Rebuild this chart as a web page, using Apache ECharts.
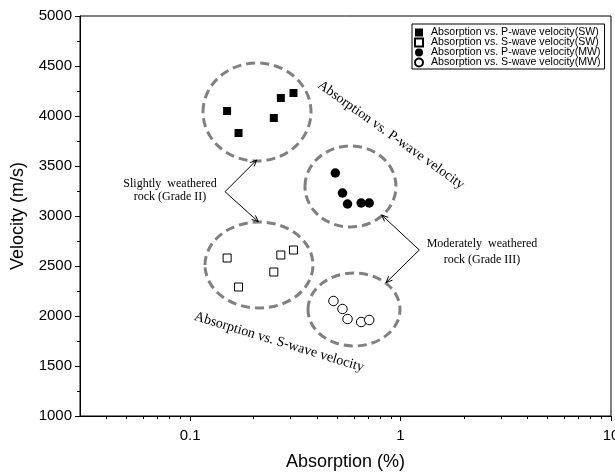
<!DOCTYPE html>
<html>
<head>
<meta charset="utf-8">
<script src="https://cdn.jsdelivr.net/npm/echarts@6/dist/echarts.min.js"></script>
<style>
  html, body { margin: 0; padding: 0; background: #fff; }
  #main { width: 615px; height: 475px; }
</style>
</head>
<body>
<div id="main"></div>
<script>
// values: absorption (%) vs velocity (m/s)
var swPAbsorption = [0.15, 0.17, 0.25, 0.27, 0.31];
var swPVelocity = [4050, 3830, 3980, 4180, 4230];
var swSAbsorption = [0.15, 0.17, 0.25, 0.27, 0.31];
var swSVelocity = [2580, 2290, 2440, 2610, 2660];
var mwPAbsorption = [0.49, 0.53, 0.56, 0.65, 0.71];
var mwPVelocity = [3430, 3230, 3120, 3130, 3130];
var mwSAbsorption = [0.48, 0.53, 0.56, 0.65, 0.71];
var mwSVelocity = [2150, 2070, 1970, 1940, 1960];

var seriesNames = [
    'Absorption vs. P-wave velocity(SW)',
    'Absorption vs. S-wave velocity(SW)',
    'Absorption vs. P-wave velocity(MW)',
    'Absorption vs. S-wave velocity(MW)'
];
var xMajorTicks = [0.1, 1, 10];
var xMinorTicks = [0.04, 0.05, 0.06, 0.07, 0.08, 0.09,
    0.2, 0.3, 0.4, 0.5, 0.6, 0.7, 0.8, 0.9,
    2, 3, 4, 5, 6, 7, 8, 9];

function pairs (xs, ys) {
    return xs.map(function (x, i) { return [x, ys[i]]; });
}

var sans = 'Liberation Sans, Arial, sans-serif';
var serif = 'Liberation Serif, Times New Roman, serif';
var dashed = { stroke: '#808080', fill: null, lineWidth: 3, lineDash: [9, 5] };
var thin = { stroke: '#000', fill: null, lineWidth: 1 };

function ellipse (cx, cy, rx, ry) {
    return { type: 'ellipse', shape: { cx: cx, cy: cy, rx: rx, ry: ry }, style: dashed, z: 1 };
}

// shaft from (x0,y0) to (x1,y1), open head at the far end
function arrow (x0, y0, x1, y1) {
    var a = Math.atan2(y1 - y0, x1 - x0);
    var len = 7, spread = 0.4;
    return [
        { type: 'polyline', shape: { points: [[x0, y0], [x1, y1]] }, style: thin, z: 5 },
        { type: 'polyline', shape: { points: [
            [x1 - len * Math.cos(a - spread), y1 - len * Math.sin(a - spread)],
            [x1, y1],
            [x1 - len * Math.cos(a + spread), y1 - len * Math.sin(a + spread)]
        ] }, style: thin, z: 5 }
    ];
}

function note (x, y, text, size, rot) {
    return {
        type: 'text', x: x, y: y, rotation: (rot || 0) * Math.PI / 180, z: 5,
        style: { text: text, fill: '#000', font: size + 'px ' + serif, align: 'center', verticalAlign: 'middle' }
    };
}

var graphics = [
    ellipse(257, 112, 54, 49),
    ellipse(350.5, 186.5, 45.5, 40.5),
    ellipse(259, 265, 54, 43),
    ellipse(354, 309.5, 46, 36.5),
    note(170, 183.5, 'Slightly  weathered', 12),
    note(170, 197, 'rock (Grade II)', 12),
    note(482, 243.5, 'Moderately  weathered', 12),
    note(482, 260, 'rock (Grade III)', 12),
    note(391, 135, 'Absorption vs. P-wave velocity', 14, -35.5),
    note(279, 342, 'Absorption vs. S-wave velocity', 14, -17)
].concat(
    arrow(225, 191.7, 256.7, 160),
    arrow(225, 191.7, 258.3, 221.7),
    arrow(419.3, 250, 381.7, 215),
    arrow(419.3, 250, 386, 282.7)
);

var open = { color: '#fff', borderColor: '#000', borderWidth: 1, opacity: 1 };
var solid = { color: '#000', opacity: 1 };

var option = {
    animation: false,
    backgroundColor: '#fff',
    textStyle: { fontFamily: sans },
    grid: {
        left: 80, right: 4, top: 16, bottom: 59,
        outerBoundsMode: 'none', containLabel: false,
        show: true, borderColor: '#000', borderWidth: 1, backgroundColor: 'transparent'
    },
    legend: {
        orient: 'vertical',
        left: 412, top: 24,
        padding: [3, 4, 1, 2],
        itemWidth: 8, itemHeight: 8, itemGap: -1,
        borderColor: '#000', borderWidth: 1,
        textStyle: { fontSize: 10.6, lineHeight: 10, color: '#000', fontFamily: sans, padding: [0, 0, 0, 3] },
        data: [
            { name: seriesNames[0], icon: 'rect' },
            { name: seriesNames[1], icon: 'rect' },
            { name: seriesNames[2], icon: 'circle' },
            { name: seriesNames[3], icon: 'circle' }
        ]
    },
    xAxis: [
        {
            type: 'log', logBase: 10, min: 0.03, max: 10,
            name: 'Absorption (%)', nameLocation: 'middle', nameGap: 37,
            nameTextStyle: { fontSize: 18, color: '#000', fontFamily: sans },
            axisLine: { lineStyle: { color: '#000', width: 1 } },
            axisTick: { customValues: xMajorTicks, length: 5, lineStyle: { color: '#000' } },
            axisLabel: { customValues: xMajorTicks, fontSize: 15, color: '#000', margin: 12, fontFamily: sans },
            splitLine: { show: false }
        },
        {
            type: 'log', logBase: 10, min: 0.03, max: 10, position: 'bottom',
            axisLine: { show: false },
            axisTick: { customValues: xMinorTicks, length: 3, lineStyle: { color: '#000' } },
            axisLabel: { show: false },
            splitLine: { show: false }
        }
    ],
    yAxis: {
        type: 'value', min: 1000, max: 5000, interval: 500,
        name: 'Velocity (m/s)', nameLocation: 'middle', nameGap: 53,
        nameTextStyle: { fontSize: 18, color: '#000', fontFamily: sans },
        axisLine: { show: true, lineStyle: { color: '#000', width: 1 } },
        axisTick: { show: true, length: 5, lineStyle: { color: '#000' } },
        minorTick: { show: true, splitNumber: 2, length: 3, lineStyle: { color: '#000' } },
        axisLabel: { fontSize: 15, color: '#000', margin: 8, fontFamily: sans,
            formatter: function (v) { return String(v); } },
        splitLine: { show: false }
    },
    series: [
        { name: seriesNames[0], type: 'scatter', symbol: 'rect', symbolSize: 8, itemStyle: solid, data: pairs(swPAbsorption, swPVelocity), z: 3 },
        { name: seriesNames[1], type: 'scatter', symbol: 'rect', symbolSize: 8, itemStyle: open, data: pairs(swSAbsorption, swSVelocity), z: 3 },
        { name: seriesNames[2], type: 'scatter', symbol: 'circle', symbolSize: 9.5, itemStyle: solid, data: pairs(mwPAbsorption, mwPVelocity), z: 3 },
        { name: seriesNames[3], type: 'scatter', symbol: 'circle', symbolSize: 9.5, itemStyle: open, data: pairs(mwSAbsorption, mwSVelocity), z: 3 }
    ],
    graphic: graphics
};

var myChart = echarts.init(document.getElementById('main'));
myChart.setOption(option);
</script>
</body>
</html>
